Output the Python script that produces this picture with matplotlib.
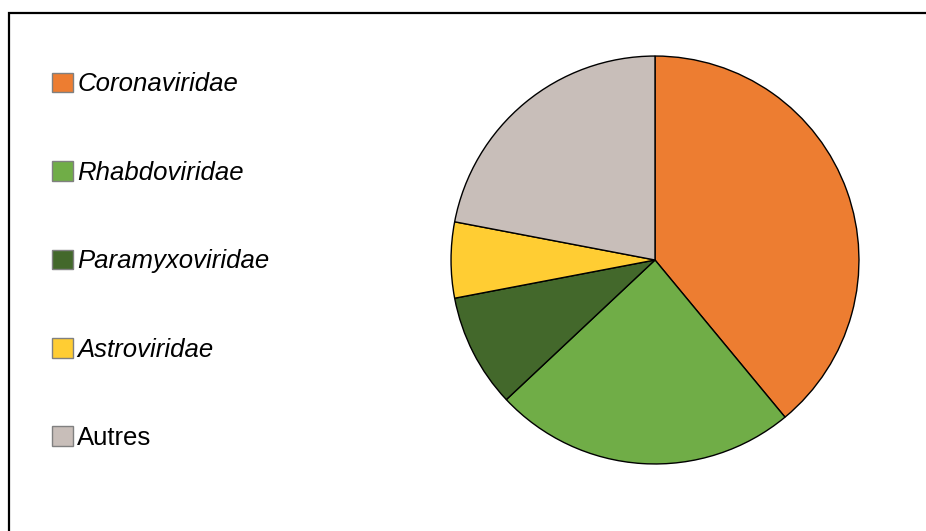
import matplotlib
matplotlib.use("Agg")
import matplotlib.pyplot as plt
from matplotlib.patches import Rectangle

categories = ["Coronaviridae", "Rhabdoviridae", "Paramyxoviridae", "Astroviridae", "Autres"]
values = [39, 24, 9, 6, 22]
colors = ["#ED7D31", "#70AD47", "#43682B", "#FFCD33", "#C8BEB9"]
italic = [True, True, True, True, False]

plt.rcParams['font.family'] = ['Liberation Sans', 'DejaVu Sans']

W, H = 926, 531
fig = plt.figure(figsize=(W / 100, H / 100), dpi=100)

cx, cy, r = 655, 260, 206
ax = fig.add_axes([(cx - r) / W, (H - cy - r) / H, 2 * r / W, 2 * r / H])
wedges, _ = ax.pie(values, colors=colors, startangle=90, counterclock=False,
                   radius=1, wedgeprops=dict(edgecolor="black", linewidth=1.0))
ax.set_xlim(-1.01, 1.01)
ax.set_ylim(-1.01, 1.01)
ax.set_aspect("equal")
ax.axis("off")

leg = fig.legend(wedges, categories, loc="upper left",
                 bbox_to_anchor=(42 / W, 1 - 62 / H), frameon=False,
                 fontsize=18.5, handlelength=0.8, handleheight=0.8,
                 handletextpad=0.17, labelspacing=2.51, borderaxespad=0)
for t, it in zip(leg.get_texts(), italic):
    if it:
        t.set_style("italic")
for h in leg.legend_handles:
    h.set_edgecolor("#808080")
    h.set_linewidth(1.0)

fig.patches.append(Rectangle((9 / W, -0.1), 1.1, 1 - 13 / H + 0.1,
                             transform=fig.transFigure, fill=False,
                             edgecolor="black", linewidth=1.6))

fig.savefig("out.png", dpi=100, facecolor="white")
